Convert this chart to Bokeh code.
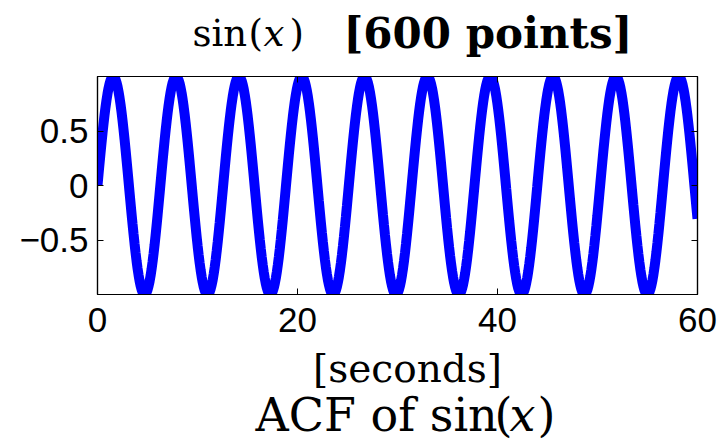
import numpy as np
from bokeh.plotting import figure
from bokeh.layouts import column
from bokeh.models import LinearAxis, FixedTicker, Range1d
from bokeh.core.properties import value
from bokeh.embed import file_html
from bokeh.resources import INLINE

# 600 samples of sin(x) over 0..60 seconds
n_points = 600
t_seconds = np.linspace(0, 60, n_points)
signal = np.sin(t_seconds)

x_ticks = [0, 20, 40, 60]
y_ticks = [-0.5, 0, 0.5]
y_tick_labels = {-0.5: "\u22120.5", 0: "0", 0.5: "0.5"}
x_tick_labels = {t: str(t) for t in x_ticks}

SERIF = "DejaVu Serif"
SANS = "Liberation Sans"
BLUE = "#0000ff"
WIDTH = 727
BORDER_L, BORDER_R = 97, 30
HEAD_H, MAIN_H, FOOT_H = 70, 276, 94


def text_strip(height):
    """Blank strip whose frame lines up with the axes; 1 unit = 1 px,
    x measured from the left edge of the page."""
    f = figure(width=WIDTH, height=height, output_backend="svg",
               toolbar_location=None,
               x_range=Range1d(BORDER_L, WIDTH - BORDER_R),
               y_range=Range1d(0, height),
               x_axis_location=None, y_axis_location=None,
               min_border_left=BORDER_L, min_border_right=BORDER_R,
               min_border_top=0, min_border_bottom=0,
               outline_line_color=None,
               background_fill_color="white", border_fill_color="white")
    f.xgrid.visible = False
    f.ygrid.visible = False
    return f


def put(f, x, y, text, size, style="normal", align="left"):
    f.text(x=[x], y=[y], text=[text],
           text_font=value(SERIF), text_font_size=value(size),
           text_font_style=style, text_color="black",
           text_baseline="alphabetic", text_align=align)


# ---- heading: sin(x) [600 points]
head = text_strip(HEAD_H)
put(head, 192, 37, "sin", "37px")
put(head, 248, 37, "(", "37px")
put(head, 263, 37, "x", "37px", "italic")
put(head, 289, 37, ")", "37px")
put(head, 343, 37, "[600 points]", "42px", "bold")

# ---- main axes
p = figure(
    width=WIDTH, height=MAIN_H,
    output_backend="svg", toolbar_location=None,
    x_range=Range1d(0, 60), y_range=Range1d(-1, 1),
    min_border_left=BORDER_L, min_border_right=BORDER_R,
    min_border_top=6, min_border_bottom=52,
    background_fill_color="white", border_fill_color="white",
)
p.xgrid.visible = False
p.ygrid.visible = False
p.outline_line_color = "black"
p.outline_line_width = 1.2

p.line(t_seconds, signal, line_width=10, line_color=BLUE)


def style_axis(ax, labelled):
    ax.minor_tick_line_color = None
    ax.major_tick_in = 6
    ax.major_tick_out = 0
    ax.major_tick_line_color = "black"
    ax.axis_line_color = "black"
    ax.axis_line_width = 1.2
    ax.major_label_text_font = SANS
    ax.major_label_text_color = "black"
    if labelled:
        ax.major_label_text_font_size = "35px"
    else:
        ax.major_label_text_font_size = "0px"
        ax.major_label_standoff = 0


xb = p.xaxis[0]
xb.ticker = FixedTicker(ticks=x_ticks)
xb.major_label_overrides = x_tick_labels
style_axis(xb, True)
xb.major_label_standoff = 13

yl = p.yaxis[0]
yl.ticker = FixedTicker(ticks=y_ticks)
yl.major_label_overrides = y_tick_labels
style_axis(yl, True)
yl.major_label_standoff = 9

xt = LinearAxis(ticker=FixedTicker(ticks=x_ticks),
                major_label_overrides={t: "" for t in x_ticks})
style_axis(xt, False)
p.add_layout(xt, "above")

yr = LinearAxis(ticker=FixedTicker(ticks=y_ticks),
                major_label_overrides={t: "" for t in y_ticks})
style_axis(yr, False)
p.add_layout(yr, "right")

# ---- x label and the heading of the panel underneath
foot = text_strip(FOOT_H)
put(foot, 407, 72, "[seconds]", "39px", align="center")
put(foot, 255, 26, "ACF of sin", "46px")
put(foot, 494, 26, "(", "46px")
put(foot, 509, 26, "x", "46px", "italic")
put(foot, 537, 26, ")", "46px")

layout = column(head, p, foot, spacing=0)
open("out.html", "w").write(file_html(layout, INLINE))
